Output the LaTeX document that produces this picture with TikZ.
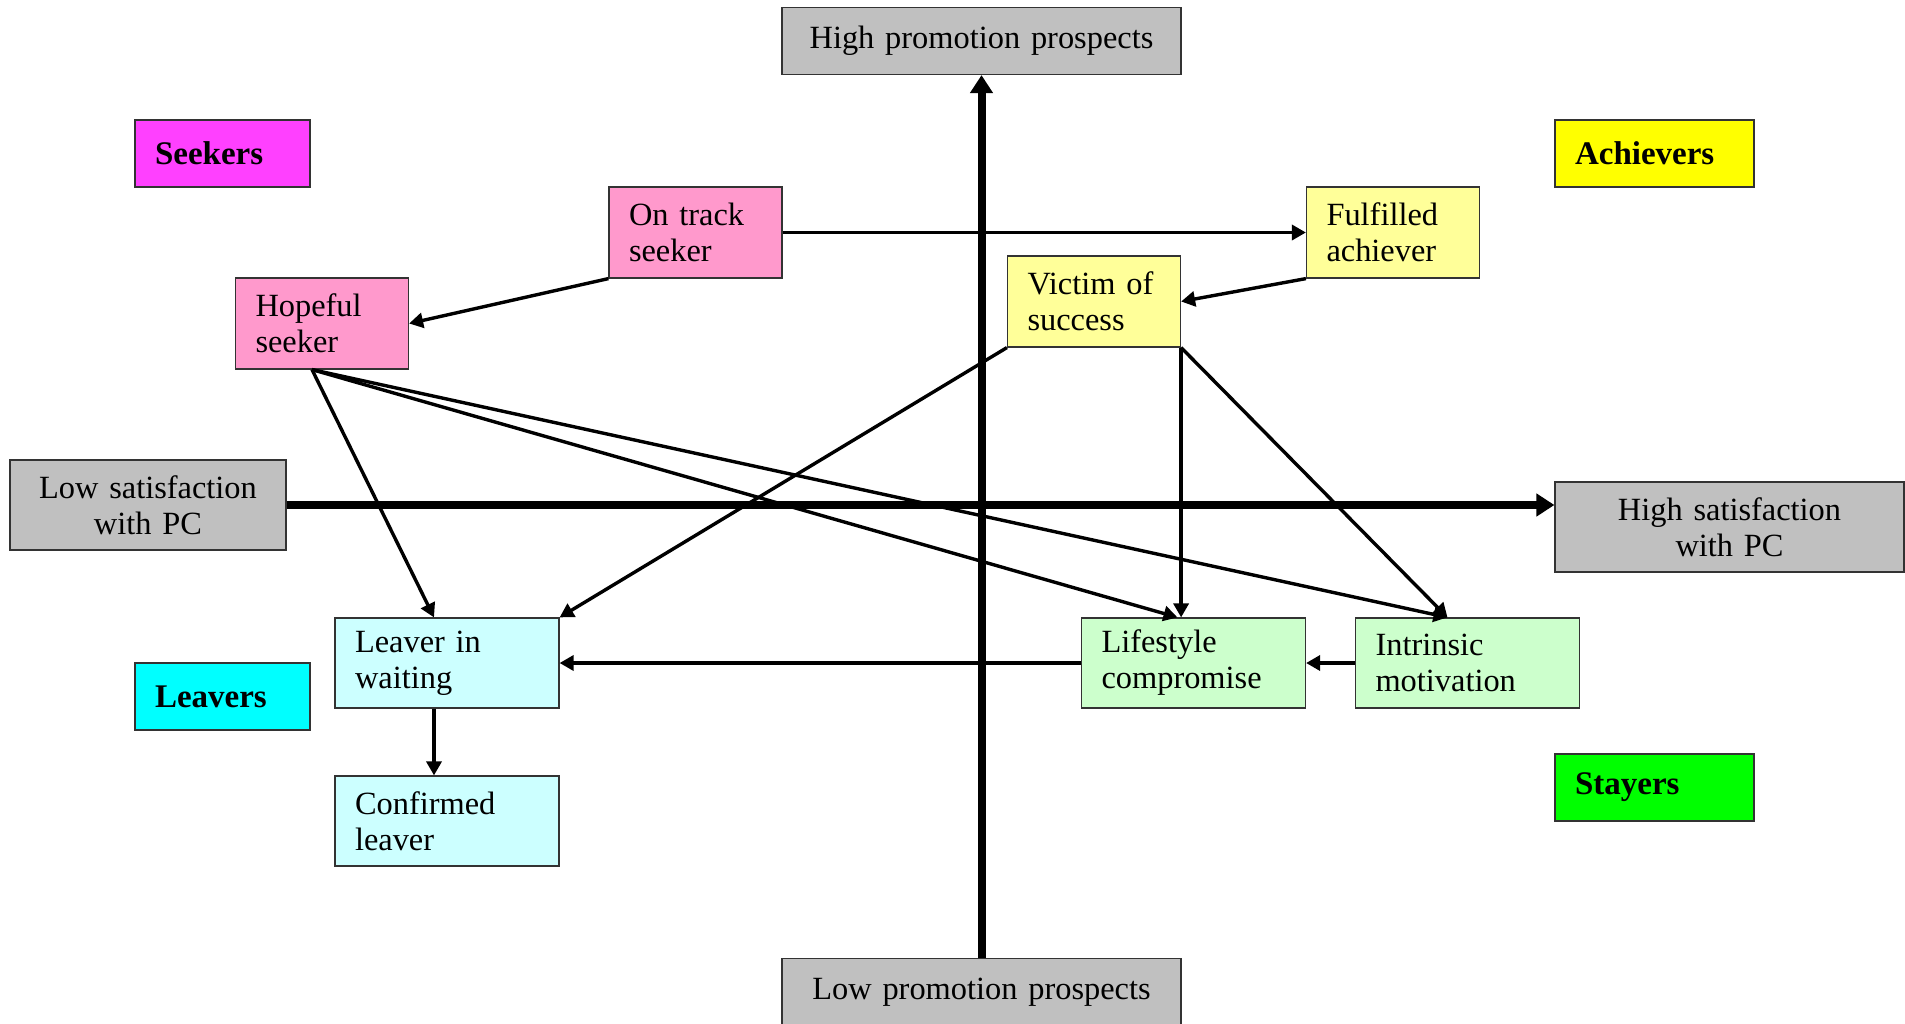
\documentclass[tikz,border=0pt]{standalone}
\usepackage{fontspec}
\setmainfont{Liberation Serif}
\usepackage{tikz}
\usetikzlibrary{arrows.meta}

\definecolor{greybox}{RGB}{192,192,192}
\definecolor{seekcol}{RGB}{255,64,255}
\definecolor{seekpale}{RGB}{255,153,204}
\definecolor{achcol}{RGB}{255,255,0}
\definecolor{achpale}{RGB}{255,255,153}
\definecolor{leavecol}{RGB}{0,255,255}
\definecolor{leavepale}{RGB}{204,255,255}
\definecolor{staycol}{RGB}{0,255,0}
\definecolor{staypale}{RGB}{204,255,204}

\begin{document}
\begin{tikzpicture}[x=0.5pt,y=-0.5pt,
    box/.style={rectangle, draw=black!80, line width=0.6pt, inner xsep=10pt, inner ysep=0pt,
        align=left, font=\fontsize{16.2}{18}\selectfont},
    group/.style={box, minimum height=33.5pt, font=\fontsize{16.5}{18}\selectfont\bfseries},
    kind/.style={box, text width=66.5pt, minimum height=45.5pt},
    widekind/.style={box, text width=92pt, minimum height=45pt},
    axislabel/.style={box, fill=greybox, align=center},
    axis/.style={line width=4pt, -{Triangle[length=9pt,width=11pt]}},
    link/.style={line width=1.7pt, -{Triangle[length=7pt,width=7.5pt]}}]
\useasboundingbox (0,0) rectangle (1905,1023);

\node[axislabel, text width=179.5pt, minimum height=33.5pt] (highProm) at (981.5,41) {High promotion prospects};
\node[axislabel, text width=179.5pt, minimum height=33.5pt] (lowProm) at (981.5,992) {Low promotion prospects};
\node[axislabel, text width=118pt, minimum height=45pt] (lowSat) at (148,505) {Low satisfaction\\with PC};
\node[axislabel, text width=154.5pt, minimum height=45pt] (highSat) at (1729.5,527) {High satisfaction\\with PC};

\node[group, fill=seekcol, text width=67.5pt] (seekers) at (222.5,153.5) {Seekers};
\node[group, fill=achcol, text width=79.5pt] (achievers) at (1654.5,153.5) {Achievers};
\node[group, fill=leavecol, text width=67.5pt] (leavers) at (222.5,696.5) {Leavers};
\node[group, fill=staycol, text width=79.5pt] (stayers) at (1654.5,787.5) {Stayers};

\node[kind, fill=seekpale] (onTrack) at (695.5,232.5) {On track\\seeker};
\node[kind, fill=seekpale] (hopeful) at (322,323.5) {Hopeful\\seeker};
\node[kind, fill=achpale] (fulfilled) at (1393,232.5) {Fulfilled\\achiever};
\node[kind, fill=achpale] (victim) at (1094,301.5) {Victim of\\success};
\node[widekind, fill=leavepale] (leaverWait) at (447,663) {Leaver in\\waiting};
\node[widekind, fill=leavepale] (confirmed) at (447,821) {Confirmed\\leaver};
\node[widekind, fill=staypale] (lifestyle) at (1193.5,663) {Lifestyle\\compromise};
\node[widekind, fill=staypale] (intrinsic) at (1467.5,663) {Intrinsic\\motivation};

\draw[axis] (lowProm.north) -- (highProm.south);
\draw[axis] (lowSat.east) -- (lowSat.east -| highSat.west);

\draw[link] (onTrack.east) -- (fulfilled.west);
\draw[link] (onTrack.south west) -- (hopeful.east);
\draw[link] (fulfilled.south west) -- (victim.east);
\draw[link] ([xshift=-5pt]hopeful.south) -- ([xshift=-6.5pt]leaverWait.north);
\foreach \target/\shift in {lifestyle/-8, intrinsic/-10}
    \draw[link] ([xshift=-5pt]hopeful.south) -- ([xshift=\shift pt]\target.north);
\draw[link] (victim.south west) -- (leaverWait.north east);
\draw[link] (victim.south east) -- (victim.south east |- lifestyle.north);
\draw[link] (victim.south east) -- ([xshift=-10pt]intrinsic.north);
\draw[link] (lifestyle.west) -- (leaverWait.east);
\draw[link] (intrinsic.west) -- (lifestyle.east);
\draw[link] ([xshift=-6.5pt]leaverWait.south) -- ([xshift=-6.5pt]confirmed.north);
\end{tikzpicture}
\end{document}
